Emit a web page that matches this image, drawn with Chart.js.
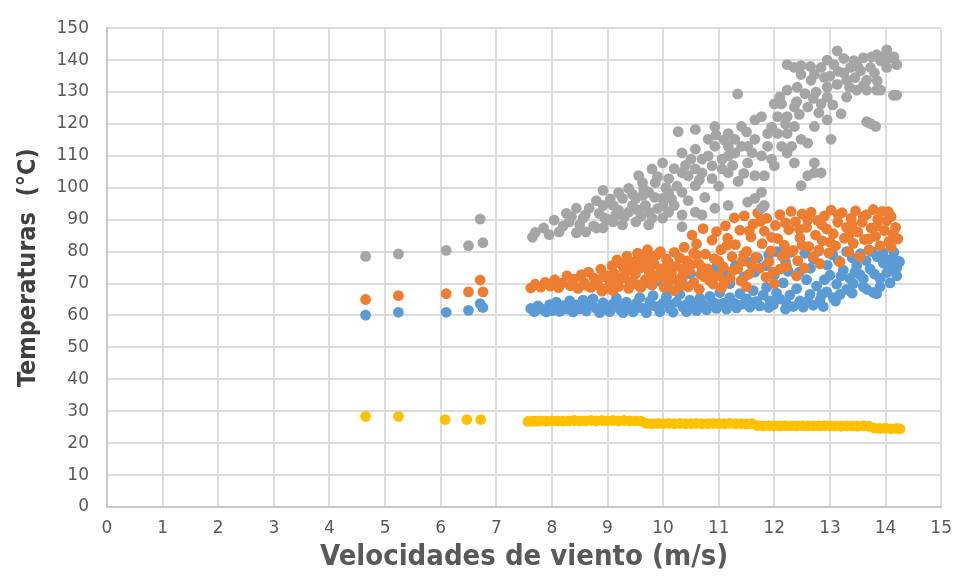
<!DOCTYPE html>
<html>
<head>
<meta charset="utf-8">
<script src="https://cdn.jsdelivr.net/npm/chart.js@4.4.1/dist/chart.umd.min.js"></script>
<style>
  body { margin: 0; background: #ffffff; }
  canvas { display: block; }
</style>
</head>
<body>
<canvas id="chart" width="963" height="580"></canvas>
<script>
// Axis ticks
const xTicks = [0, 1, 2, 3, 4, 5, 6, 7, 8, 9, 10, 11, 12, 13, 14, 15];
const yTicks = [0, 10, 20, 30, 40, 50, 60, 70, 80, 90, 100, 110, 120, 130, 140, 150];

// Series: [wind speed (m/s), temperature (°C)]
const bluePoints = [
  [4.65, 60.1], [5.24, 61], [6.1, 61], [6.5, 61.6], [6.76, 62.5], [6.71, 63.7],
  [7.62, 62.2], [7.68, 61.2], [7.75, 63], [7.82, 62], [7.9, 61.1], [7.96, 63.4], [8.02, 62.3], [8.08, 64.2],
  [8.14, 61.3], [8.2, 63.1], [8.26, 62], [8.32, 64.6], [8.38, 61.1], [8.44, 63.3], [8.5, 62.1], [8.56, 64.8],
  [8.62, 61.4], [8.68, 63.2], [8.74, 65.2], [8.8, 62.2], [8.86, 60.9], [8.92, 64], [8.98, 62.8], [9.04, 61.2],
  [9.1, 63.6], [9.16, 65.4], [9.22, 62], [9.28, 60.9], [9.34, 64.2], [9.4, 62.6], [9.46, 61.1], [9.52, 63.8],
  [9.58, 65.6], [9.64, 62.2], [9.7, 60.9], [9.76, 64.4], [9.82, 66.2], [9.88, 62.8], [9.94, 61.2], [10.0, 63.9],
  [10.06, 65.8], [10.12, 62.2], [10.18, 61], [10.24, 64.2], [10.3, 66.6], [10.36, 62.6], [10.42, 61.2], [10.48, 64.8],
  [10.54, 63], [10.6, 61.5], [10.66, 65.4], [10.72, 63.4], [10.78, 61.8], [10.84, 66], [10.9, 64.2], [10.96, 62.2],
  [11.02, 67.2], [11.08, 63.8], [11.14, 62], [11.2, 65.6], [11.26, 64], [11.32, 62.4], [11.38, 66.8], [11.44, 63.6],
  [11.5, 65.2], [11.56, 62.6], [11.62, 67.8], [11.68, 64.4], [11.74, 63], [11.8, 66.4], [11.86, 68.8], [11.92, 64.6],
  [11.98, 63.4], [12.04, 67], [12.1, 65.2], [12.16, 70.2], [12.22, 63.8], [12.28, 66.4], [12.34, 62.8], [12.4, 68.4],
  [12.46, 64.6], [12.52, 62.6], [12.58, 71.2], [12.64, 66.6], [12.7, 63.2], [12.76, 69.2], [12.82, 64.8], [12.88, 62.8],
  [12.94, 67.4], [13.0, 72.6], [13.06, 65.6], [13.12, 69.8], [13.18, 66.6], [13.24, 74.2], [13.3, 68.2], [13.36, 71.6],
  [13.42, 70], [13.48, 75.6], [13.54, 72.8], [13.6, 69], [13.66, 68.2], [13.72, 74.6], [13.78, 67.2], [13.84, 66.8],
  [13.9, 71.6], [13.96, 76.4], [14.02, 73.4], [14.08, 70.2], [14.14, 78], [14.2, 72.4], [14.24, 77],
  [9.7, 70.2], [9.75, 72], [9.9, 70.8], [10.1, 68.4], [10.35, 71.8], [10.5, 73], [10.7, 74], [10.95, 75],
  [11.1, 73.2], [11.3, 75.6], [11.5, 77], [11.7, 78], [11.9, 79], [12.05, 80], [12.2, 76.8], [12.3, 79.8],
  [12.45, 73.6], [12.55, 79.5], [12.7, 77.8], [12.8, 80.2], [12.95, 75.8], [13.05, 79], [13.15, 77.2], [13.3, 80],
  [13.4, 78], [13.55, 79.4], [13.65, 77.2], [13.75, 80], [13.85, 78.4], [13.95, 79.6], [14.05, 77.4], [14.15, 79.8],
  [14.25, 76.8], [11.2, 70], [11.45, 72], [11.65, 73.6], [11.85, 75.6], [12.0, 72.6], [12.25, 73.8], [12.65, 74.8],
  [12.9, 71.2], [13.2, 72.4], [13.45, 73.6], [13.8, 73], [14.1, 74.8],
  [7.72, 62.4], [8.0, 61.5], [8.3, 63], [8.6, 62.8], [8.9, 62], [9.2, 63], [9.5, 62.2], [9.8, 63.2],
  [10.1, 63.5], [10.4, 63.2], [10.7, 62.8], [11.0, 63.4], [11.3, 63.6], [11.6, 64], [11.9, 62.5], [12.2, 62],
  [12.6, 64.5], [12.85, 66.5], [13.1, 64.5], [13.4, 67], [13.6, 71.5], [13.9, 69], [14.2, 75]
];

const orangePoints = [
  [4.65, 65], [5.24, 66.2], [6.1, 66.8], [6.5, 67.4], [6.76, 67.4], [6.71, 71.1],
  [7.62, 68.6], [7.7, 69.8], [7.8, 68.9], [7.88, 70.4], [7.97, 69.2], [8.05, 71.2], [8.12, 68.7], [8.18, 70.1],
  [8.27, 72.4], [8.33, 69.3], [8.4, 71.4], [8.47, 68.5], [8.53, 72.8], [8.58, 70.3], [8.66, 73.6], [8.7, 68.8],
  [8.76, 71.7], [8.83, 69.6], [8.88, 74.5], [8.93, 72.2], [8.98, 68.4], [9.04, 70.7], [9.08, 75.6], [9.12, 73.1],
  [9.17, 77.4], [9.2, 69.1], [9.26, 71.8], [9.3, 74.4], [9.35, 78.6], [9.38, 68.5], [9.42, 76.2], [9.46, 70.3],
  [9.5, 72.9], [9.54, 79.5], [9.58, 74.8], [9.6, 68.8], [9.65, 77.5], [9.68, 71.2], [9.72, 80.6], [9.75, 73.8],
  [9.8, 69.5], [9.84, 76.1], [9.88, 78.9], [9.92, 71.9], [9.96, 74.6], [10.02, 68.8], [10.06, 77.7], [10.1, 70.6],
  [10.15, 73.2], [10.2, 79.8], [10.24, 75.4], [10.3, 69.2], [10.34, 72.1], [10.38, 81.4], [10.42, 77.1], [10.47, 74],
  [10.52, 85.2], [10.55, 70.3], [10.6, 82.4], [10.64, 76.3], [10.68, 72.8], [10.72, 87.2], [10.76, 79.2], [10.8, 74.6],
  [10.84, 70.9], [10.88, 83.6], [10.92, 77.8], [10.96, 86.3], [11.0, 72.4], [11.04, 80.6], [11.08, 75.2], [11.12, 88.1],
  [11.16, 84.2], [11.2, 71.6], [11.24, 78.4], [11.28, 90.6], [11.3, 82.2], [11.34, 74.6], [11.38, 86.7], [11.42, 76.9],
  [11.46, 91.2], [11.5, 80.1], [11.54, 72.9], [11.58, 84.6], [11.62, 88.6], [11.66, 78.2], [11.7, 92.1], [11.74, 74.8],
  [11.78, 82.5], [11.82, 86.4], [11.86, 90.4], [11.9, 76.8], [11.94, 80.2], [11.98, 73.6], [12.02, 88.2], [12.06, 84.1],
  [12.1, 91.6], [12.14, 78.6], [12.18, 82], [12.22, 75.3], [12.26, 86.9], [12.3, 92.6], [12.34, 80.4], [12.38, 89.4],
  [12.42, 77.2], [12.46, 84.3], [12.5, 91.8], [12.54, 74.8], [12.58, 87.6], [12.62, 81.6], [12.66, 92.4], [12.7, 78.4],
  [12.74, 85.2], [12.78, 89.8], [12.82, 76.2], [12.86, 83.4], [12.9, 91.2], [12.94, 87.1], [12.98, 79.6], [13.02, 93],
  [13.06, 85.6], [13.1, 81.8], [13.14, 89.2], [13.18, 76.8], [13.22, 92.2], [13.26, 84.2], [13.3, 87.6], [13.34, 79.9],
  [13.38, 90.4], [13.42, 82.6], [13.46, 92.8], [13.5, 86.2], [13.54, 78.4], [13.58, 89.2], [13.62, 83.8], [13.66, 91.6],
  [13.7, 80.6], [13.74, 87.4], [13.78, 93.2], [13.82, 84.8], [13.86, 90.2], [13.9, 81.8], [13.94, 92.6], [13.98, 86.6],
  [14.02, 89.6], [14.06, 83.2], [14.1, 91], [14.14, 85.4], [14.18, 87.6], [14.22, 84],
  [9.4, 70.5], [9.55, 69.6], [9.7, 75.5], [9.85, 72.5], [9.95, 80], [10.05, 75], [9.3, 72.5], [9.5, 77],
  [9.65, 79], [10.15, 71.5], [10.3, 78], [10.45, 69], [10.6, 79], [10.75, 72], [10.9, 69.8], [11.1, 70],
  [11.4, 70.8], [11.6, 75.5], [11.85, 72], [12.1, 74.5], [12.4, 72.4], [12.0, 70], [9.1, 67.8], [8.9, 67.6],
  [10.2, 67.8], [10.65, 68.2], [11.05, 68.6], [11.5, 69],
  [8.6, 69.5], [8.8, 71], [9.0, 72.5], [9.15, 70], [9.25, 76], [9.45, 74], [9.6, 76.5], [9.75, 78.5],
  [9.8, 71.5], [10.0, 72.5], [10.1, 76.5], [10.25, 71], [10.35, 74.5], [10.5, 76], [10.55, 79.5], [10.7, 75],
  [10.85, 73], [11.0, 77], [11.15, 82], [11.25, 74], [11.45, 79], [11.55, 86.5], [11.75, 89.5], [11.95, 84.5],
  [12.2, 89], [12.45, 87], [12.6, 90], [12.85, 88.5], [13.15, 91.5], [13.4, 88.5], [13.6, 91], [13.85, 88],
  [14.05, 92.5], [12.2, 79], [12.5, 82], [12.8, 80.5], [13.0, 83], [13.35, 85.5], [13.7, 84], [14.1, 81.5]
];

const grayPoints = [
  [4.65, 78.5], [5.24, 79.3], [6.1, 80.4], [6.5, 81.9], [6.76, 82.8], [6.71, 90.2],
  [7.65, 84.5], [7.7, 86], [7.85, 87.4], [7.95, 85.3], [8.04, 89.9], [8.13, 86.2], [8.2, 88], [8.26, 92],
  [8.31, 89.3], [8.44, 93.6], [8.44, 85.9], [8.56, 90.5], [8.61, 86.2], [8.67, 93.6], [8.75, 88], [8.8, 96],
  [8.8, 87.4], [8.92, 99.2], [8.92, 94.5], [8.92, 87.4], [9.02, 90], [9.1, 94.5], [9.1, 89.3], [9.15, 91.5],
  [9.27, 96.7], [9.27, 88.4], [9.38, 99.8], [9.38, 92.4], [9.45, 94.5], [9.51, 96.7], [9.51, 89.3], [9.56, 103.8],
  [9.63, 101.6], [9.63, 97.6], [9.68, 94.5], [9.74, 98.6], [9.74, 92.4], [9.8, 105.9], [9.8, 90.5], [9.86, 101.6],
  [9.99, 107.8], [9.99, 96.7], [9.99, 90.5], [10.1, 102.9], [10.1, 98.6], [10.1, 92.4], [10.2, 94.5], [10.27, 117.6],
  [10.34, 110.9], [10.34, 104.7], [10.34, 98.6], [10.34, 91.5], [10.45, 103.8], [10.58, 118.3], [10.58, 112.1], [10.58, 105.9],
  [10.58, 100.7], [10.58, 92.4], [10.7, 109], [10.7, 104.7], [10.81, 115.2], [10.81, 110], [10.88, 106.9], [10.88, 102.9],
  [10.93, 119.2], [10.93, 113], [10.93, 93.6], [11.06, 109], [11.06, 105.9], [11.17, 117], [11.17, 113], [11.17, 110],
  [11.17, 104.7], [11.17, 94.5], [11.29, 115.2], [11.29, 110.9], [11.34, 129.4], [11.41, 119.2], [11.41, 113], [11.52, 113],
  [11.52, 107.8], [11.52, 95.5], [11.65, 121.3], [11.65, 115.2], [11.65, 103.8], [11.65, 96.7], [11.77, 122.3], [11.77, 110],
  [11.77, 98.6], [11.77, 93.6], [11.82, 103.8], [11.82, 94.5], [11.88, 117], [11.88, 113], [12.0, 126.3], [12.0, 106.9],
  [12.06, 122.3], [12.06, 117], [12.13, 126.3], [12.13, 113], [12.23, 138.6], [12.23, 130.6], [12.23, 122.3], [12.23, 117],
  [12.23, 110.9], [12.31, 113], [12.36, 137.7], [12.36, 125.3], [12.36, 119.2], [12.36, 107.8], [12.41, 131.5], [12.48, 138.3],
  [12.48, 135.5], [12.48, 115.2], [12.48, 100.7], [12.6, 125.3], [12.6, 114], [12.6, 103.8], [12.66, 133.7], [12.72, 135.5],
  [12.72, 119.2], [12.72, 107.8], [12.72, 104.7], [12.84, 137.7], [12.84, 126.3], [12.84, 104.7], [12.9, 134.6], [12.95, 131.5],
  [12.95, 128.4], [12.95, 121.3], [13.02, 115.2], [13.07, 138.6], [13.13, 142.9], [13.13, 132.4], [13.2, 123.2], [13.3, 133.7],
  [13.3, 128.4], [13.37, 137.7], [13.43, 139.8], [13.48, 130.6], [13.55, 136.7], [13.6, 140.7], [13.66, 133.7], [13.66, 130.6],
  [13.66, 120.7], [13.73, 137.7], [13.73, 120.1], [13.82, 119.2], [13.84, 141.7], [13.84, 130.6], [13.91, 139.8], [13.91, 130.6],
  [14.02, 143.2], [14.02, 137.7], [14.14, 129], [14.2, 138.6], [14.2, 129],
  [12.55, 129.5], [12.75, 130], [13.0, 135], [13.25, 136], [13.5, 138], [13.8, 136], [13.95, 141], [12.1, 128.5],
  [12.4, 127], [11.95, 119], [11.5, 117.5], [11.1, 115], [10.95, 116.5], [10.4, 107], [10.2, 106], [10.05, 100],
  [9.9, 93.5], [9.6, 91], [9.2, 93], [8.95, 90.5], [8.5, 88.5], [8.35, 91], [10.34, 87.8], [10.7, 91.5], [9.74, 88.4],
  [8.6, 91.5], [8.85, 92], [9.05, 96.5], [9.2, 98.5], [9.3, 90.8], [9.45, 98], [9.55, 93], [9.65, 99.5],
  [9.85, 97], [9.9, 103.5], [10.0, 94.5], [10.15, 96.5], [10.25, 100.5], [10.45, 96], [10.5, 109], [10.65, 102.5],
  [10.75, 97], [11.0, 100.5], [11.25, 107], [11.35, 102], [11.45, 104.5], [11.6, 111], [11.95, 109], [12.2, 120],
  [12.45, 123], [12.7, 128], [12.8, 123.5], [13.05, 126], [13.15, 136.5], [13.35, 131.5], [13.45, 134.5], [13.6, 132],
  [13.75, 141], [13.85, 133.5], [14.05, 140.5], [14.15, 141], [12.65, 138], [12.95, 140], [13.25, 140.5]
];

const yellowPoints = [
  [4.65, 28.4], [5.24, 28.4], [6.08, 27.4], [6.47, 27.4], [6.72, 27.4],
  [7.57, 26.8], [7.65, 26.9], [7.72, 26.9], [7.8, 27], [7.9, 26.9], [8.0, 27], [8.1, 27], [8.2, 26.9],
  [8.3, 27], [8.4, 27.1], [8.5, 27], [8.6, 27], [8.7, 27.1], [8.8, 27], [8.9, 27.1], [9.0, 27],
  [9.1, 27.1], [9.2, 27], [9.3, 27.1], [9.4, 27], [9.5, 27], [9.6, 26.9],
  [9.7, 26.2], [9.8, 26.1], [9.9, 26.2], [10.0, 26.1], [10.1, 26.2], [10.2, 26.1], [10.3, 26.2], [10.4, 26.1],
  [10.5, 26.1], [10.6, 26.2], [10.7, 26.1], [10.8, 26.1], [10.9, 26.2], [11.0, 26.1], [11.1, 26.1], [11.2, 26.2],
  [11.3, 26.1], [11.4, 26.1], [11.5, 26], [11.6, 26.1],
  [11.7, 25.5], [11.8, 25.4], [11.9, 25.5], [12.0, 25.4], [12.1, 25.4], [12.2, 25.5], [12.3, 25.4], [12.4, 25.4],
  [12.5, 25.5], [12.6, 25.4], [12.7, 25.4], [12.8, 25.4], [12.9, 25.5], [13.0, 25.4], [13.1, 25.4], [13.2, 25.3],
  [13.3, 25.4], [13.4, 25.4], [13.5, 25.3], [13.6, 25.4], [13.7, 25.3],
  [13.8, 24.7], [13.9, 24.6], [14.0, 24.7], [14.1, 24.5], [14.2, 24.6], [14.26, 24.5]
];

function toXY(points) {
  return points.map(p => ({ x: p[0], y: p[1] }));
}

function makeSeries(points, color, order) {
  return {
    data: toXY(points),
    backgroundColor: color,
    borderWidth: 0,
    pointRadius: 5.4,
    pointHoverRadius: 5.4,
    order: order,
  };
}

const tickFont = { family: "'DejaVu Sans', sans-serif", size: 17 };
const titleFamily = "'Liberation Sans Narrow', 'DejaVu Sans Condensed', sans-serif";

new Chart(document.getElementById("chart").getContext("2d"), {
  type: "scatter",
  data: {
    datasets: [
      makeSeries(bluePoints, "#5B9BD5", 4),
      makeSeries(orangePoints, "#ED7D31", 3),
      makeSeries(grayPoints, "#A5A5A5", 2),
      makeSeries(yellowPoints, "#FFC000", 1),
    ],
  },
  options: {
    responsive: false,
    animation: false,
    layout: { padding: { top: 20, right: 15, left: 0, bottom: 0 } },
    plugins: { legend: { display: false }, tooltip: { enabled: false } },
    scales: {
      x: {
        type: "linear",
        min: 0,
        max: 15,
        afterBuildTicks: s => { s.ticks = xTicks.map(v => ({ value: v })); },
        afterFit: s => { s.height = 73; },
        grid: { color: "#DCDCDC", lineWidth: 2, drawTicks: false },
        border: { color: "#C8C8C8", width: 2 },
        ticks: { font: tickFont, color: "#595959", padding: 11 },
        title: {
          display: true,
          text: "Velocidades de viento (m/s)",
          color: "#595959",
          font: { family: titleFamily, size: 29, weight: "bold" },
          padding: { top: 0, bottom: 5 },
        },
      },
      y: {
        type: "linear",
        min: 0,
        max: 150,
        afterBuildTicks: s => { s.ticks = yTicks.map(v => ({ value: v })); },
        afterFit: s => { s.width = 107; },
        grid: { color: "#DCDCDC", lineWidth: 2, drawTicks: false },
        border: { color: "#C8C8C8", width: 2 },
        ticks: { font: tickFont, color: "#595959", padding: 18 },
        title: {
          display: true,
          text: "Temperaturas  (°C)",
          color: "#404040",
          font: { family: titleFamily, size: 25, weight: "bold" },
          padding: { top: 13, bottom: 0 },
        },
      },
    },
  },
});
</script>
</body>
</html>
